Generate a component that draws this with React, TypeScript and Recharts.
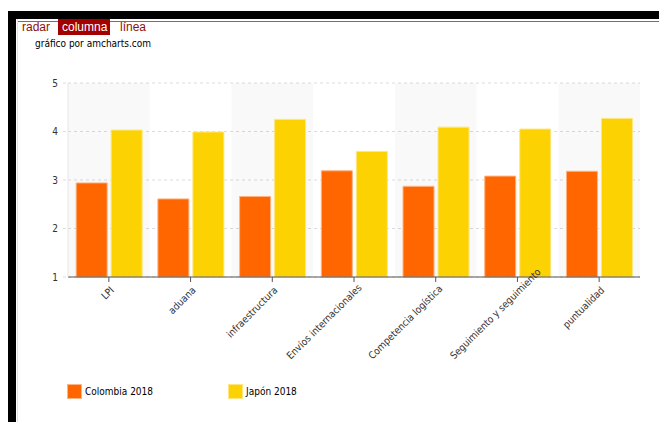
import React from "react";
import { BarChart, Bar, XAxis, YAxis, CartesianGrid, ReferenceArea } from "recharts";

const categories = [
  "LPI",
  "aduana",
  "infraestructura",
  "Envíos internacionales",
  "Competencia logística",
  "Seguimiento y seguimiento",
  "puntualidad",
];
const colombia2018 = [2.94, 2.61, 2.66, 3.19, 2.87, 3.08, 3.18];
const japon2018 = [4.03, 3.99, 4.25, 3.59, 4.09, 4.05, 4.27];
const seriesNames = ["Colombia 2018", "Japón 2018"];
const seriesColors = ["#FF6600", "#FCD202"];
const yTicks = [1, 2, 3, 4, 5];
const tabs = ["radar", "columna", "línea"];
const subtitle = "gráfico por amcharts.com";

const data = categories.map((c, i) => ({ cat: c, col: colombia2018[i], jap: japon2018[i] }));

const FONT = "'DejaVu Sans Condensed', 'DejaVu Sans', sans-serif";

let measureCtx: CanvasRenderingContext2D | null = null;
const measure = (s: string) => {
  if (typeof document === "undefined") return s.length * 5;
  if (!measureCtx) measureCtx = document.createElement("canvas").getContext("2d");
  if (!measureCtx) return s.length * 5;
  measureCtx.font = "10px 'DejaVu Sans Condensed', 'DejaVu Sans', sans-serif";
  return measureCtx.measureText(s).width;
};

const LABEL_BOTTOM = 357;

const XTick = (props: any) => {
  const { x, y, payload } = props;
  const w = measure(String(payload.value));
  const ax = x + 3;
  const ay = y + 4;
  const bottom = ay + w * 0.7071;
  const s = Math.max(0, bottom - LABEL_BOTTOM);
  return (
    <g transform={`translate(${ax + s},${ay - s}) rotate(-45)`}>
      <text x={0} y={0} dy={4} textAnchor="end" fontSize={10} fill="#333" fontFamily={FONT}>
        {payload.value}
      </text>
    </g>
  );
};

export default function App() {
  return (
    <div style={{ position: "relative", margin: -8, width: 667, height: 430, overflow: "hidden", background: "#fff" }}>
      {/* frame */}
      <div style={{ position: "absolute", left: 8, top: 11, width: 659, height: 8, background: "#000" }} />
      <div style={{ position: "absolute", left: 8, top: 11, width: 8, height: 419, background: "#000" }} />
      <div style={{ position: "absolute", left: 8, top: 428, width: 659, height: 2, background: "#000" }} />
      <div style={{ position: "absolute", left: 17, top: 19, width: 1, height: 409, background: "#e2e2e2" }} />
      <div style={{ position: "absolute", left: 18, top: 21, width: 649, height: 1, background: "#d04848" }} />
      <div style={{ position: "absolute", left: 18, top: 426, width: 649, height: 1, background: "#c98585" }} />
      {/* tabs */}
      <div style={{ position: "absolute", left: 22, top: 20, fontFamily: "'Liberation Sans', Arial, sans-serif", fontSize: 12, color: "#8a1010" }}>
        {tabs[0]}
      </div>
      <div style={{ position: "absolute", left: 58, top: 19, width: 52, height: 16, background: "#a30000" }} />
      <div style={{ position: "absolute", left: 62, top: 20, fontFamily: "'Liberation Sans', Arial, sans-serif", fontSize: 12, color: "#fff" }}>
        {tabs[1]}
      </div>
      <div style={{ position: "absolute", left: 120, top: 20, fontFamily: "'Liberation Sans', Arial, sans-serif", fontSize: 12, color: "#8a1010" }}>
        {tabs[2]}
      </div>
      <div style={{ position: "absolute", left: 35, top: 38, fontFamily: FONT, fontSize: 10, color: "#000" }}>{subtitle}</div>

      <div style={{ position: "absolute", left: 0, top: 0 }}>
        <BarChart
          width={667}
          height={380}
          data={data}
          margin={{ top: 83, right: 27, left: 0, bottom: 23 }}
          barCategoryGap="10%"
          barGap={4}
          style={{ overflow: "visible" }}
        >
          {categories.map((c, i) =>
            i % 2 === 0 ? (
              <ReferenceArea key={c} x1={c} x2={c} fill="#000" fillOpacity={0.025} stroke="none" ifOverflow="visible" />
            ) : null
          )}
          <CartesianGrid vertical={false} stroke="#dcdcdc" strokeDasharray="3 3" />
          <XAxis
            dataKey="cat"
            interval={0}
            height={80}
            tick={<XTick />}
            axisLine={{ stroke: "#555" }}
            tickLine={{ stroke: "#555" }}
            tickSize={5}
          />
          <YAxis
            width={68}
            domain={[1, 5]}
            ticks={yTicks}
            axisLine={{ stroke: "#e6e6e6" }}
            tickLine={{ stroke: "#dcdcdc", strokeDasharray: "3 3" }}
            tickSize={5}
            tickMargin={5}
            tick={{ fontSize: 10, fill: "#333", fontFamily: FONT }}
          />
          <Bar dataKey="col" name={seriesNames[0]} fill={seriesColors[0]} stroke="#ffb380" strokeWidth={1} isAnimationActive={false} />
          <Bar dataKey="jap" name={seriesNames[1]} fill={seriesColors[1]} stroke="#fde680" strokeWidth={1} isAnimationActive={false} />
        </BarChart>
      </div>

      {/* legend */}
      {seriesNames.map((n, i) => (
        <div key={n} style={{ position: "absolute", left: 67 + i * 161, top: 384, display: "flex", alignItems: "center" }}>
          <div style={{ width: 13, height: 13, background: seriesColors[i], border: `1px solid ${i === 0 ? "#ffb380" : "#fde680"}` }} />
          <span style={{ marginLeft: 3, fontFamily: FONT, fontSize: 10, color: "#000" }}>{n}</span>
        </div>
      ))}
    </div>
  );
}
